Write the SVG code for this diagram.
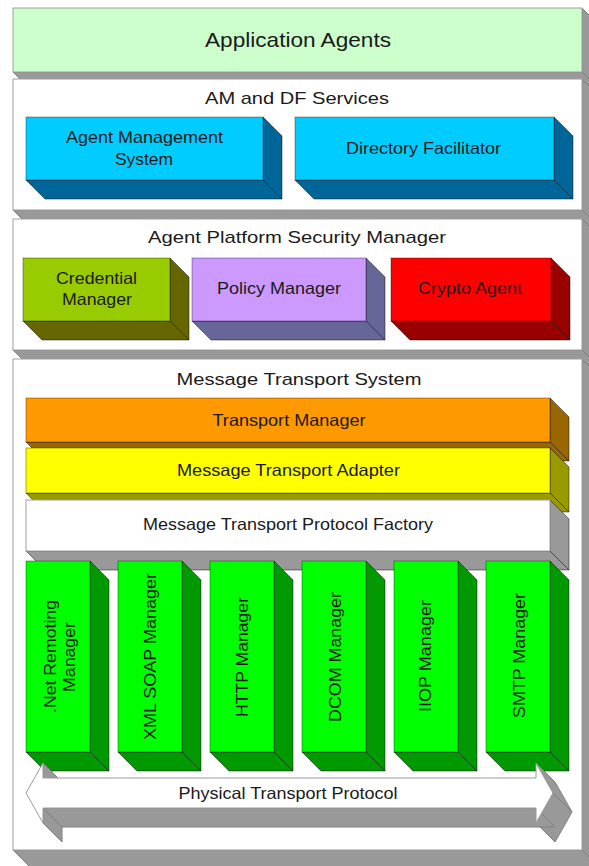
<svg xmlns="http://www.w3.org/2000/svg" width="589" height="866" viewBox="0 0 589 866">
  <style>
    text { font-family: "Liberation Sans", Arial, sans-serif; fill: #1a1a1a; text-anchor: middle; }
    .t-big { font-size: 21px; }
    .t-sec { font-size: 17px; }
    .t-box { font-size: 16.5px; }
    .t-vert { font-size: 17px; }
    .panel-front { stroke: #a0a0a0; stroke-width: 1; }
    .panel-side { fill: #999999; stroke: #7f7f7f; stroke-width: 1; }
    .front { stroke: rgba(0,0,0,0.35); stroke-width: 1; }
    .side { stroke: rgba(0,0,0,0.45); stroke-width: 1; }
    .blue .front { fill: #00ccff; } .blue .side { fill: #006699; }
    .olive .front { fill: #99cc00; } .olive .side { fill: #666600; }
    .lilac .front { fill: #cc99ff; } .lilac .side { fill: #666699; }
    .red .front { fill: #ff0000; } .red .side { fill: #990000; }
    .orange .front { fill: #ff9900; } .orange .side { fill: #996600; }
    .yellow .front { fill: #ffff00; } .yellow .side { fill: #999900; }
    .white .front { fill: #ffffff; stroke: #a0a0a0; } .white .side { fill: #999999; }
    .green .front { fill: #00ff00; } .green .side { fill: #009900; }
    .arrow-side { fill: #999999; stroke: #808080; stroke-width: 1; stroke-linejoin: round; }
    .arrow-front { fill: #ffffff; stroke: #9a9a9a; stroke-width: 1; }
  </style>

  <rect x="0" y="0" width="589" height="866" fill="#ffffff"/>

  <!-- Layer 1: Application Agents -->
  <g id="application-agents">
    <polygon class="panel-side" points="582,8 601,27 601,91 582,72"/>
    <polygon class="panel-side" points="13,72 582,72 601,91 32,91"/>
    <rect class="panel-front" x="13" y="8" width="569" height="64" fill="#ccffcc"/>
    <text class="t-big" x="298" y="47" textLength="186" lengthAdjust="spacingAndGlyphs">Application Agents</text>
  </g>

  <!-- Layer 2: AM and DF Services -->
  <g id="am-df-services">
    <polygon class="panel-side" points="582,79 601,98 601,229 582,210"/>
    <polygon class="panel-side" points="13,210 582,210 601,229 32,229"/>
    <rect class="panel-front" x="13" y="79" width="569" height="131" fill="#ffffff"/>
    <text class="t-sec" x="297" y="104" textLength="184" lengthAdjust="spacingAndGlyphs">AM and DF Services</text>
  </g>

  <g id="agent-management-system" class="blue">
    <polygon class="side" points="263,117 282,136 282,199 263,180"/>
    <polygon class="side" points="26,180 263,180 282,199 45,199"/>
    <rect class="front" x="26" y="117" width="237" height="63"/>
    <text class="t-box" x="144.5" y="143" textLength="157" lengthAdjust="spacingAndGlyphs">Agent Management</text>
    <text class="t-box" x="144" y="165" textLength="58" lengthAdjust="spacingAndGlyphs">System</text>
  </g>

  <g id="directory-facilitator" class="blue">
    <polygon class="side" points="554,117 573,136 573,199 554,180"/>
    <polygon class="side" points="295,180 554,180 573,199 314,199"/>
    <rect class="front" x="295" y="117" width="259" height="63"/>
    <text class="t-box" x="423.5" y="154" textLength="155" lengthAdjust="spacingAndGlyphs">Directory Facilitator</text>
  </g>

  <!-- Layer 3: Agent Platform Security Manager -->
  <g id="security-manager">
    <polygon class="panel-side" points="582,219 601,238 601,369 582,350"/>
    <polygon class="panel-side" points="13,350 582,350 601,369 32,369"/>
    <rect class="panel-front" x="13" y="219" width="569" height="131" fill="#ffffff"/>
    <text class="t-sec" x="297" y="243" textLength="298" lengthAdjust="spacingAndGlyphs">Agent Platform Security Manager</text>
  </g>

  <g id="credential-manager" class="olive">
    <polygon class="side" points="170,258 189,277 189,340 170,321"/>
    <polygon class="side" points="23,321 170,321 189,340 42,340"/>
    <rect class="front" x="23" y="258" width="147" height="63"/>
    <text class="t-box" x="96.5" y="284" textLength="81" lengthAdjust="spacingAndGlyphs">Credential</text>
    <text class="t-box" x="97" y="305" textLength="70" lengthAdjust="spacingAndGlyphs">Manager</text>
  </g>

  <g id="policy-manager" class="lilac">
    <polygon class="side" points="366,258 385,277 385,340 366,321"/>
    <polygon class="side" points="192,321 366,321 385,340 211,340"/>
    <rect class="front" x="192" y="258" width="174" height="63"/>
    <text class="t-box" x="279" y="294" textLength="124" lengthAdjust="spacingAndGlyphs">Policy Manager</text>
  </g>

  <g id="crypto-agent" class="red">
    <polygon class="side" points="551,258 570,277 570,340 551,321"/>
    <polygon class="side" points="391,321 551,321 570,340 410,340"/>
    <rect class="front" x="391" y="258" width="160" height="63"/>
    <text class="t-box" x="470" y="294" textLength="104" lengthAdjust="spacingAndGlyphs">Crypto Agent</text>
  </g>

  <!-- Layer 4: Message Transport System -->
  <g id="message-transport-system">
    <polygon class="panel-side" points="582,359 601,378 601,869 582,850"/>
    <polygon class="panel-side" points="13,850 582,850 601,869 32,869"/>
    <rect class="panel-front" x="13" y="359" width="569" height="491" fill="#ffffff"/>
    <text class="t-sec" x="299" y="385" textLength="245" lengthAdjust="spacingAndGlyphs">Message Transport System</text>
  </g>

  <g id="transport-manager" class="orange">
    <polygon class="side" points="550,398 569,417 569,461 550,442"/>
    <polygon class="side" points="26,442 550,442 569,461 45,461"/>
    <rect class="front" x="26" y="398" width="524" height="44"/>
    <text class="t-box" x="289" y="426" textLength="153" lengthAdjust="spacingAndGlyphs">Transport Manager</text>
  </g>

  <g id="message-transport-adapter" class="yellow">
    <polygon class="side" points="550,448 569,467 569,512 550,493"/>
    <polygon class="side" points="26,493 550,493 569,512 45,512"/>
    <rect class="front" x="26" y="448" width="524" height="45"/>
    <text class="t-box" x="288.5" y="476" textLength="223" lengthAdjust="spacingAndGlyphs">Message Transport Adapter</text>
  </g>

  <g id="protocol-factory" class="white">
    <polygon class="side" points="550,500 569,519 569,570 550,551"/>
    <polygon class="side" points="26,551 550,551 569,570 45,570"/>
    <rect class="front" x="26" y="500" width="524" height="51"/>
    <text class="t-box" x="288" y="530" textLength="290" lengthAdjust="spacingAndGlyphs">Message Transport Protocol Factory</text>
  </g>

  <!-- Protocol managers: upright green blocks -->
  <g id="net-remoting-manager" class="green">
    <polygon class="side" points="90,561 109,580 109,771 90,752"/>
    <polygon class="side" points="26,752 90,752 109,771 45,771"/>
    <rect class="front" x="26" y="561" width="64" height="191"/>
    <text class="t-vert" transform="translate(56,656.5) rotate(-90)" textLength="113" lengthAdjust="spacingAndGlyphs">.Net Remoting</text>
    <text class="t-vert" transform="translate(75,657) rotate(-90)" textLength="70" lengthAdjust="spacingAndGlyphs">Manager</text>
  </g>

  <g id="xml-soap-manager" class="green">
    <polygon class="side" points="182,561 201,580 201,771 182,752"/>
    <polygon class="side" points="118,752 182,752 201,771 137,771"/>
    <rect class="front" x="118" y="561" width="64" height="191"/>
    <text class="t-vert" transform="translate(155.5,656.5) rotate(-90)" textLength="167" lengthAdjust="spacingAndGlyphs">XML SOAP Manager</text>
  </g>

  <g id="http-manager" class="green">
    <polygon class="side" points="274,561 293,580 293,771 274,752"/>
    <polygon class="side" points="210,752 274,752 293,771 229,771"/>
    <rect class="front" x="210" y="561" width="64" height="191"/>
    <text class="t-vert" transform="translate(248,657) rotate(-90)" textLength="120" lengthAdjust="spacingAndGlyphs">HTTP Manager</text>
  </g>

  <g id="dcom-manager" class="green">
    <polygon class="side" points="366,561 385,580 385,771 366,752"/>
    <polygon class="side" points="302,752 366,752 385,771 321,771"/>
    <rect class="front" x="302" y="561" width="64" height="191"/>
    <text class="t-vert" transform="translate(341,657) rotate(-90)" textLength="130" lengthAdjust="spacingAndGlyphs">DCOM Manager</text>
  </g>

  <g id="iiop-manager" class="green">
    <polygon class="side" points="458,561 477,580 477,771 458,752"/>
    <polygon class="side" points="394,752 458,752 477,771 413,771"/>
    <rect class="front" x="394" y="561" width="64" height="191"/>
    <text class="t-vert" transform="translate(431,656) rotate(-90)" textLength="112" lengthAdjust="spacingAndGlyphs">IIOP Manager</text>
  </g>

  <g id="smtp-manager" class="green">
    <polygon class="side" points="550,561 569,580 569,771 550,752"/>
    <polygon class="side" points="486,752 550,752 569,771 505,771"/>
    <rect class="front" x="486" y="561" width="64" height="191"/>
    <text class="t-vert" transform="translate(525,655.5) rotate(-90)" textLength="125" lengthAdjust="spacingAndGlyphs">SMTP Manager</text>
  </g>

  <!-- Double-headed block arrow, extruded down-right -->
  <g id="physical-transport-protocol">
    <polygon class="arrow-side" points="43,763 43,778 62,797 62,782"/>
    <polygon class="arrow-side" points="536,763 553,793 572,812 555,782"/>
    <polygon class="arrow-side" points="553,793 536,823 555,842 572,812"/>
    <polygon class="arrow-side" points="536,808 43,808 62,827 555,827"/>
    <polygon class="arrow-side" points="43,808 43,823 62,842 62,827"/>
    <polygon class="arrow-front" points="26,793 43,763 43,778 536,778 536,763 553,793 536,823 536,808 43,808 43,823"/>
    <text class="t-box" x="288" y="799" textLength="219" lengthAdjust="spacingAndGlyphs">Physical Transport Protocol</text>
  </g>
</svg>
